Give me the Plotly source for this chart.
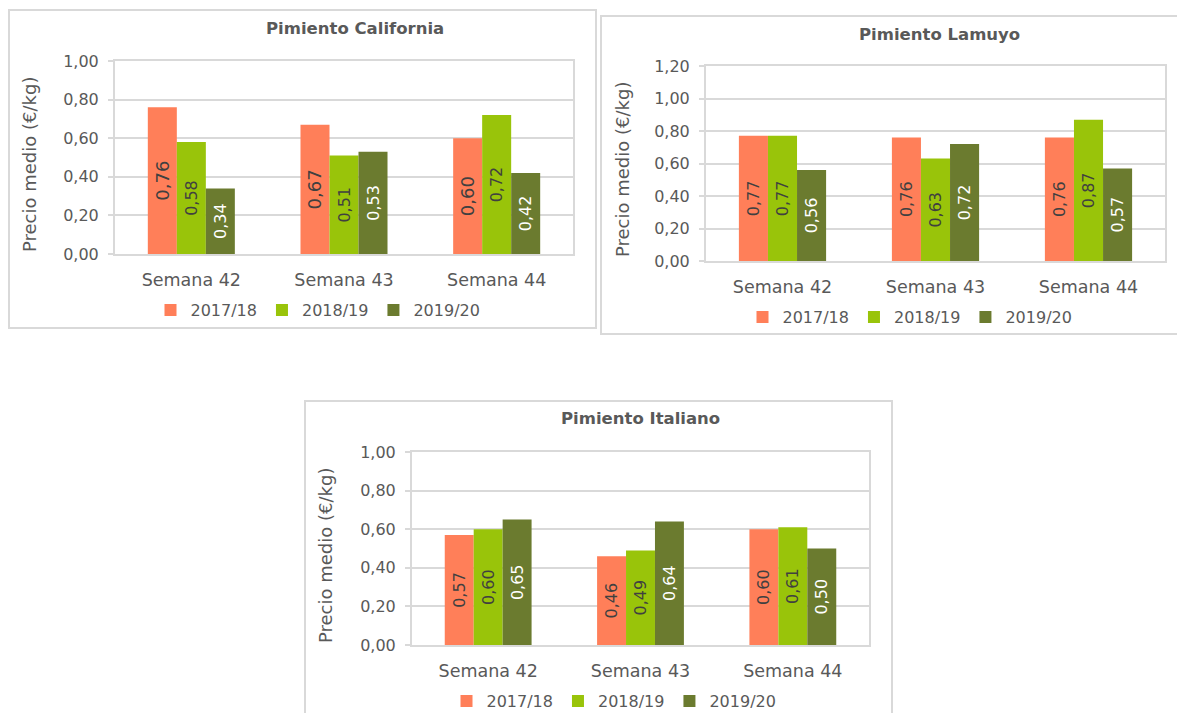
import plotly.graph_objects as go

# ---------------- data ----------------
categories = ["Semana 42", "Semana 43", "Semana 44"]
seasons = ["2017/18", "2018/19", "2019/20"]

california_2017_18 = [0.76, 0.67, 0.60]
california_2018_19 = [0.58, 0.51, 0.72]
california_2019_20 = [0.34, 0.53, 0.42]

lamuyo_2017_18 = [0.77, 0.76, 0.76]
lamuyo_2018_19 = [0.77, 0.63, 0.87]
lamuyo_2019_20 = [0.56, 0.72, 0.57]

italiano_2017_18 = [0.57, 0.46, 0.60]
italiano_2018_19 = [0.60, 0.49, 0.61]
italiano_2019_20 = [0.65, 0.64, 0.50]

chart_titles = ["Pimiento California", "Pimiento Lamuyo", "Pimiento Italiano"]
y_title = "Precio medio (€/kg)"
y_max = [1.0, 1.2, 1.0]

# ---------------- styling / layout ----------------
W, H = 1177, 713
FONT = "DejaVu Sans"
GREY_TXT = "#595959"
GRID = "#D9D9D9"
bar_colors = ["#FF7F59", "#99C40A", "#6B7B2F"]
label_colors = ["#404040", "#404040", "#FFFFFF"]


def fx(px):
    return px / W


def fy(py):
    return 1 - py / H


charts = [
    dict(values=[california_2017_18, california_2018_19, california_2019_20],
         plot=(115, 573, 61, 254), box=(9, 596, 10, 328),
         title_xy=(355, 28), ytitle_xy=(29, 165), legend_xy=(318, 310),
         first_label_size=18),
    dict(values=[lamuyo_2017_18, lamuyo_2018_19, lamuyo_2019_20],
         plot=(706, 1165, 66, 261), box=(601, 1182, 16, 334),
         title_xy=(939, 34), ytitle_xy=(622, 170), legend_xy=(910, 317),
         first_label_size=16),
    dict(values=[italiano_2017_18, italiano_2018_19, italiano_2019_20],
         plot=(412, 869, 452, 645), box=(305, 892, 401, 718),
         title_xy=(640, 419), ytitle_xy=(325, 556), legend_xy=(614, 701),
         first_label_size=16),
]

fig = go.Figure()
layout_axes = {}
annotations = []
shapes = []
legends = {}

for i, ch in enumerate(charts):
    sfx = "" if i == 0 else str(i + 1)
    for j, season in enumerate(seasons):
        size = ch["first_label_size"] if j == 0 else 16
        fig.add_trace(go.Bar(
            x=categories, y=ch["values"][j], name=season,
            xaxis="x" + sfx, yaxis="y" + sfx, legend="legend" + sfx,
            marker=dict(color=bar_colors[j], line=dict(width=0)),
            texttemplate="%{y:.2f}", textposition="inside",
            insidetextanchor="middle", textangle=-90,
            textfont=dict(family=FONT, size=size, color=label_colors[j]),
            hoverinfo="skip",
        ))
    x0, x1, y0, y1 = ch["plot"]
    layout_axes["xaxis" + sfx] = dict(
        domain=[fx(x0), fx(x1)], anchor="y" + sfx,
        showline=True, mirror=True, linecolor=GRID, linewidth=2,
        showgrid=False, ticks="", ticklabelstandoff=9,
        tickfont=dict(family=FONT, size=17.5, color=GREY_TXT),
        fixedrange=True,
    )
    layout_axes["yaxis" + sfx] = dict(
        domain=[fy(y1), fy(y0)], anchor="x" + sfx,
        range=[0, y_max[i]], dtick=0.2, tickformat=".2f",
        showline=True, mirror=True, linecolor=GRID, linewidth=2,
        showgrid=True, gridcolor=GRID, gridwidth=2,
        ticks="outside", ticklen=5, tickwidth=2, tickcolor=GRID,
        ticklabelstandoff=6,
        tickfont=dict(family=FONT, size=16, color=GREY_TXT),
        zeroline=False, fixedrange=True,
    )
    bx0, bx1, by0, by1 = ch["box"]
    shapes.append(dict(type="rect", xref="paper", yref="paper",
                       x0=fx(bx0), x1=fx(bx1), y0=fy(by1), y1=fy(by0),
                       line=dict(color=GRID, width=2), fillcolor="rgba(0,0,0,0)",
                       layer="below"))
    tx, ty = ch["title_xy"]
    annotations.append(dict(text="<b>" + chart_titles[i] + "</b>", xref="paper", yref="paper",
                            x=fx(tx), y=fy(ty), xanchor="center", yanchor="middle",
                            showarrow=False,
                            font=dict(family=FONT, size=16.5, color=GREY_TXT)))
    ax_, ay_ = ch["ytitle_xy"]
    annotations.append(dict(text=y_title, xref="paper", yref="paper",
                            x=fx(ax_), y=fy(ay_), xanchor="center", yanchor="middle",
                            textangle=-90, showarrow=False,
                            font=dict(family=FONT, size=18, color=GREY_TXT)))
    lx, ly = ch["legend_xy"]
    legends["legend" + sfx] = dict(
        orientation="h", x=fx(lx), xanchor="center", y=fy(ly), yanchor="middle",
        font=dict(family=FONT, size=16, color=GREY_TXT),
        bgcolor="rgba(0,0,0,0)", itemwidth=30,
        itemclick=False, itemdoubleclick=False,
    )

fig.update_layout(
    width=W, height=H,
    margin=dict(l=0, r=0, t=0, b=0, autoexpand=False),
    paper_bgcolor="white", plot_bgcolor="white",
    barmode="group", bargap=0.43, bargroupgap=0,
    separators=",.",
    font=dict(family=FONT, color=GREY_TXT),
    annotations=annotations, shapes=shapes,
    **layout_axes, **legends,
)

fig.write_html("out.html",
               config={"displayModeBar": False},
               post_script="document.body.style.margin='0px';document.body.style.overflow='hidden';")
